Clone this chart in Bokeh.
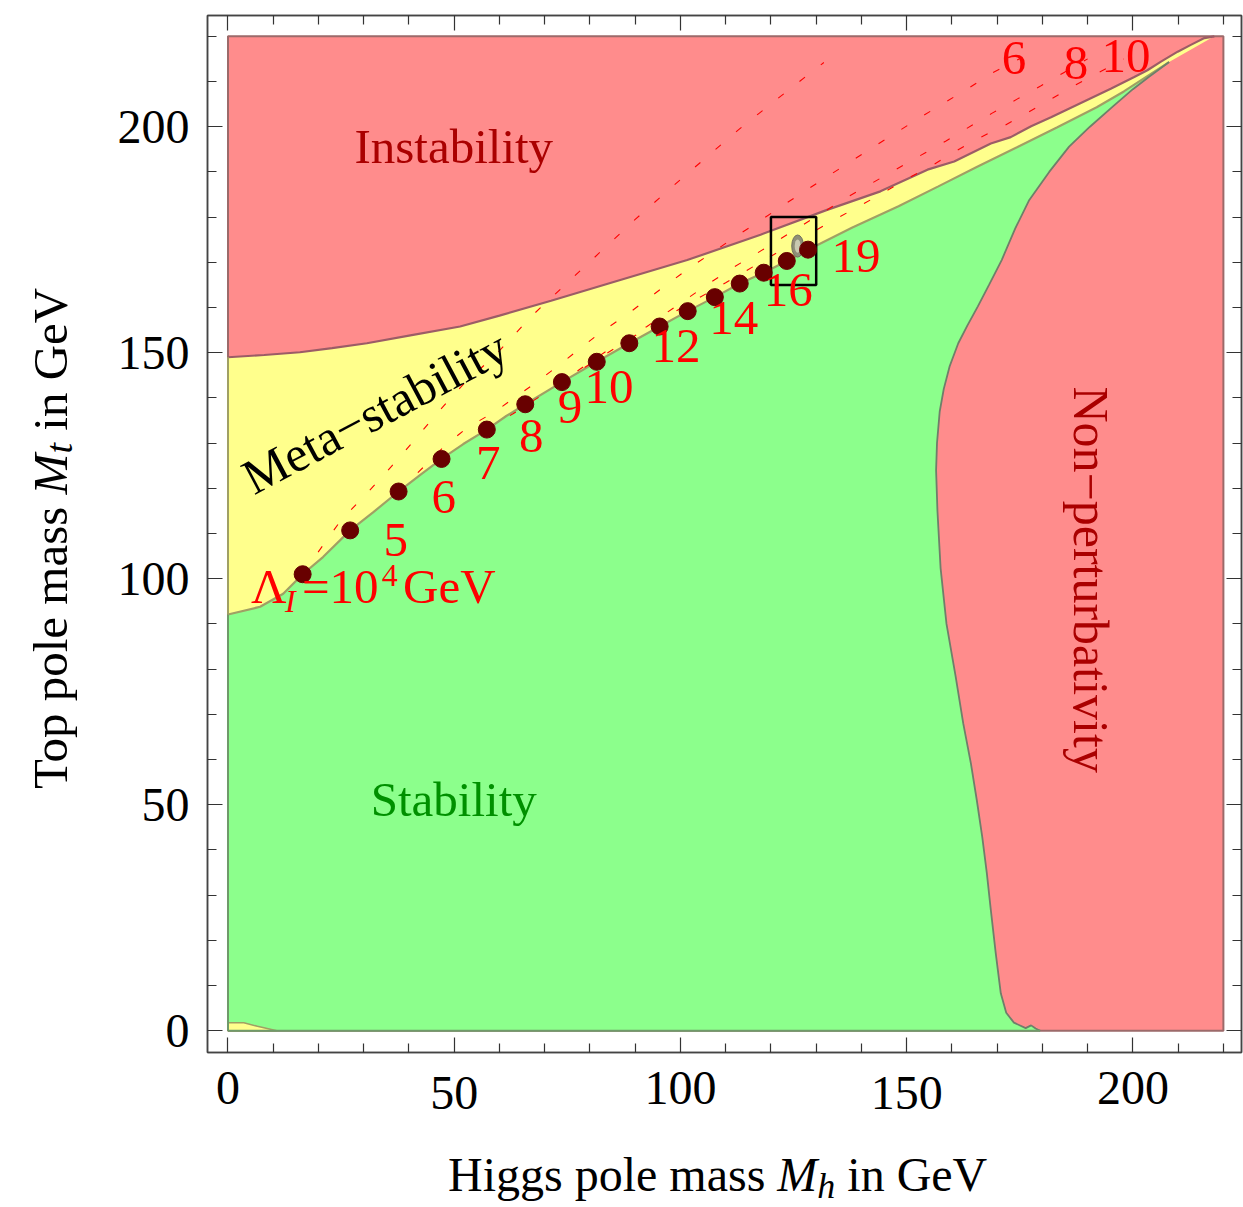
import math
from bokeh.plotting import figure
from bokeh.models import Range1d, LinearAxis, FixedTicker, Label, Div
from bokeh.layouts import row, column
from bokeh.embed import file_html
from bokeh.resources import INLINE

FONT = "Liberation Serif"

# ---------------- data ----------------
x_major = [0, 50, 100, 150, 200]
y_major = [0, 50, 100, 150, 200]
x_minor = [10, 20, 30, 40, 60, 70, 80, 90, 110, 120, 130, 140, 160, 170, 180, 190, 210, 220]
y_minor = [10, 20, 30, 40, 60, 70, 80, 90, 110, 120, 130, 140, 160, 170, 180, 190, 210, 220]
x_labels_high = [0, 100, 200]
x_labels_low = [50, 150]

region_xmax = 220
region_ymax = 220

# instability / meta-stability boundary
upper_x = [0, 8, 15.9, 23, 30.7, 40, 51.3, 60, 71.4, 86.7, 101.5, 117.7, 132.4, 144.2, 154.6,
           160.5, 168.6, 173, 177.5, 181.9, 186.3, 190.7, 195.1, 200.3, 203.2, 206.2, 209.9,
           212.8, 215.8, 218]
upper_y = [149, 149.5, 150.1, 151, 152.1, 153.8, 155.8, 158.2, 161.5, 166.1, 170.5, 176.1, 181.6,
           185.7, 190.5, 192.3, 196.3, 197.7, 200.1, 202.1, 204.2, 206.3, 208.4, 211, 212.5,
           214.4, 216.6, 218.1, 219.6, 220]

# meta-stability / stability boundary
lower_x = [0, 7.1, 12.2, 16.5, 21, 27, 32.2, 37.7, 42.5, 47.2, 52, 57.2, 61.5, 65.7, 73.8, 81.5,
           88.7, 95.4, 101.6, 107.6, 113.1, 118.4, 123.5, 128.2, 138, 148.2, 157, 165.7, 174.5,
           183.3, 192, 198, 203.2, 208]
lower_y = [92.1, 93.8, 96.7, 101, 104.8, 110.7, 114.8, 119.3, 123, 126.5, 129.8, 133, 136, 138.6,
           143.5, 148, 152.1, 155.8, 159.2, 162.3, 165.3, 167.7, 170.3, 172.8, 177.7, 182.4,
           186.8, 191.2, 195.5, 199.9, 204.3, 207.8, 211.2, 214.3]

# stability / non-perturbativity boundary
nonpert_x = [208, 203.5, 200, 195.6, 190.5, 185.9, 181.5, 177.1, 174, 171, 168.2, 165.7, 163.4,
             161.4, 159.5, 158.2, 157.3, 156.7, 156.5, 156.8, 157.5, 158.8, 160.8, 162.5, 164.2,
             165.5, 166.7, 167.7, 168.6, 169.7, 170.8, 172, 173.7, 176.3, 177.5, 178.5, 179.5]
nonpert_y = [214.3, 211, 208.3, 204.5, 200, 195.6, 190, 183.8, 177.5, 170.5, 165, 160.2, 156,
             152.1, 147, 142, 137, 130, 124, 115, 102.3, 90, 78.5, 68, 59.1,
             51, 42.9, 35, 26.7, 17, 8.3, 4, 1.8, 0.6, 1.2, 0.5, 0]

# small meta-stable patch at the bottom left
blob_x = [0, 0, 3.5, 6.5, 10.8]
blob_y = [0, 1.8, 1.8, 1.0, 0]

# instability scale Lambda_I = 10^n GeV along the stability boundary, n = 4..19
dot_n = [4, 5, 6, 7, 8, 9, 10, 11, 12, 13, 14, 15, 16, 17, 18, 19]
dot_x = [16.5, 27, 37.7, 47.2, 57.2, 65.7, 73.8, 81.5, 88.7, 95.4, 101.6, 107.6, 113.1, 118.4, 123.5, 128.2]
dot_y = [101, 110.7, 119.3, 126.5, 133, 138.6, 143.5, 148, 152.1, 155.8, 159.2, 162.3, 165.3, 167.7, 170.3, 172.8]

num_text = ["5", "6", "7", "8", "9", "10", "12", "14", "16", "19"]
num_x = [37.1, 47.7, 57.5, 67.0, 75.6, 84.2, 99.0, 111.8, 123.8, 138.8]
num_y = [108.5, 118.0, 125.5, 131.5, 137.9, 142.5, 151.4, 157.6, 163.8, 171.5]

top_text = ["6", "8", "10"]
top_x = [173.7, 187.4, 198.5]
top_y = [215.1, 214.2, 215.7]

# dashed contours of constant Lambda_I
c4_x = [16.5, 20, 25, 30.3, 34.4, 38.4, 42.5, 46.2, 52, 59.1, 67.2, 76.3, 80.8, 90, 100, 112.8, 117.3, 124.5, 131.7]
c4_y = [101, 106, 113, 118.5, 122.9, 127.4, 132.2, 136.6, 143, 149.5, 158.2, 166.7, 170.9, 179.5, 188.3, 199.3, 202.9, 208.6, 214.2]
c6_x = [37.7, 43, 48, 53, 59.1, 63.1, 68.1, 73.1, 77.9, 82.6, 87.6, 92.5, 97.4, 102.2, 107.4, 112.5,
        117.3, 122.5, 132.8, 143.1, 153.4, 163.8, 168.9, 174.9]
c6_y = [119.3, 124.5, 129.5, 133.5, 137, 139.9, 143.4, 147.2, 151, 154.7, 158, 161.7, 165.4, 168.9,
        172.4, 175.9, 179, 182.5, 189.2, 195.8, 202.3, 208.6, 211.9, 215]
c8_x = [57.2, 63, 70, 78, 86, 92.6, 97.3, 106.6, 111.4, 116.9, 127.1, 137.2, 147.9, 158.6, 168.9, 174.4, 179.6, 184.8, 190]
c8_y = [133, 136.5, 141, 146.5, 152, 155.8, 159.1, 165.5, 168.7, 172, 178.3, 184.6, 190.7, 196.8, 203, 206.1, 209, 212, 215]
c10_x = [73.8, 82, 90, 100, 110, 122, 134.3, 139.7, 145, 150.1, 155.6, 160.5, 166.2, 171.5, 176.7, 181.9, 187.4, 192.5, 198]
c10_y = [143.5, 148.8, 153.8, 159.8, 165.5, 172.5, 179.6, 182.5, 185.5, 188.5, 191.4, 194.4, 197.6, 200.2, 203.1, 206.1, 209.3, 212, 215]

# experimental region and zoom box
exp_x, exp_y, exp_w, exp_h = 125.9, 173.6, 2.6, 4.9
box_left, box_right, box_bottom, box_top = 120, 130, 165, 180

# ---------------- colours ----------------
RED = "#FF8C8C"
YELLOW = "#FFFF8C"
GREEN = "#8CFF8C"

# ---------------- layout sizes ----------------
YDIV_W = 80
XDIV_H = 80
TOTAL_W, TOTAL_H = 1243, 1207
P_W = TOTAL_W - YDIV_W
P_H = TOTAL_H - XDIV_H

p = figure(width=P_W, height=P_H, output_backend="svg", toolbar_location=None,
           x_range=Range1d(-4.53, 224.0), y_range=Range1d(-4.8, 224.6),
           x_axis_location=None, y_axis_location=None,
           min_border_left=207 - YDIV_W, min_border_right=2, min_border_top=15,
           min_border_bottom=P_H - 1052)
p.grid.visible = False
p.outline_line_color = "#444444"
p.outline_line_width = 1.5
p.background_fill_color = "white"
p.border_fill_color = "white"


def style_axis(ax, labels=True, ticks=True):
    ax.major_tick_in = 15
    ax.major_tick_out = 0
    ax.minor_tick_in = 9
    ax.minor_tick_out = 0
    ax.major_tick_line_color = "#333333" if ticks else None
    ax.minor_tick_line_color = "#333333" if ticks else None
    ax.major_tick_line_width = 1.2
    ax.minor_tick_line_width = 1.2
    ax.axis_line_color = "#444444" if ticks else None
    ax.axis_line_width = 1.5
    ax.major_label_text_font = FONT
    if labels:
        ax.major_label_text_font_size = "48px"
        ax.major_label_text_color = "black"
    else:
        ax.major_label_text_font_size = "0px"
        ax.major_label_text_color = None
        ax.major_label_standoff = 0


xt = FixedTicker(ticks=x_major, minor_ticks=x_minor)
yt = FixedTicker(ticks=y_major, minor_ticks=y_minor)

# bottom: ticks, then two staggered label rows
xb = LinearAxis(ticker=xt)
style_axis(xb, labels=False)
p.add_layout(xb, "below")

xb_hi = LinearAxis(ticker=FixedTicker(ticks=x_labels_high, minor_ticks=[]))
style_axis(xb_hi, ticks=False)
xb_hi.major_label_standoff = 19
p.add_layout(xb_hi, "below")

xb_lo = LinearAxis(ticker=FixedTicker(ticks=x_labels_low, minor_ticks=[]))
style_axis(xb_lo, ticks=False)
xb_lo.major_label_standoff = -30
p.add_layout(xb_lo, "below")

yl = LinearAxis(ticker=yt)
style_axis(yl)
yl.major_label_standoff = 18
p.add_layout(yl, "left")

xa = LinearAxis(ticker=xt)
style_axis(xa, labels=False)
p.add_layout(xa, "above")
yr = LinearAxis(ticker=yt)
style_axis(yr, labels=False)
p.add_layout(yr, "right")

# ---------------- regions ----------------
p.patch([0, 0, region_xmax, region_xmax], [0, region_ymax, region_ymax, 0],
        fill_color=RED, line_color="#9c6a6a", line_width=2)
p.patch(upper_x + lower_x[::-1], upper_y + lower_y[::-1], fill_color=YELLOW, line_color=None)
p.patch([0] + lower_x + nonpert_x[1:], [0] + lower_y + nonpert_y[1:], fill_color=GREEN, line_color=None)
p.patch(blob_x, blob_y, fill_color=YELLOW, line_color="#a0a064", line_width=1.5)

p.line(upper_x, upper_y, line_color="#9c5c66", line_width=2.2)
p.line(lower_x, lower_y, line_color="#a0a064", line_width=2.2)
p.line(nonpert_x, nonpert_y, line_color="#6f7f6a", line_width=1.8)
p.line([0, 0], [0, lower_y[0]], line_color="#6f9a6a", line_width=2)
p.line([0, nonpert_x[-1]], [0, 0], line_color="#6f9a6a", line_width=2)
p.line([0, 0], [lower_y[0], upper_y[0]], line_color="#a0a064", line_width=2)

# dashed contours
for cx, cy in [(c4_x, c4_y), (c6_x, c6_y), (c8_x, c8_y), (c10_x, c10_y)]:
    p.line(cx, cy, line_color="red", line_width=1.1, line_dash="7 20")

# experimental ellipse and zoom box
p.ellipse(x=[exp_x], y=[exp_y], width=[exp_w], height=[exp_h],
          fill_color="#8f8f78", line_color="#707060", line_width=1)
p.ellipse(x=[exp_x], y=[exp_y], width=[exp_w * 0.5], height=[exp_h * 0.6],
          fill_color="#c9c9b0", line_color=None)
p.quad(left=[box_left], right=[box_right], bottom=[box_bottom], top=[box_top],
       fill_color=None, line_color="black", line_width=2.5)

# dots
p.scatter(dot_x, dot_y, size=17, fill_color="#680000", line_color="#680000")


# ---------------- texts ----------------
def add_text(text, x, y, size=49, color="black", style="normal", angle=0.0, align="left"):
    p.add_layout(Label(x=x, y=y, text=text, text_font=FONT, text_font_size=f"{size}px",
                       text_color=color, text_font_style=style, angle=angle,
                       text_align=align, text_baseline="middle"))


for t, x, y in zip(num_text, num_x, num_y):
    add_text(t, x, y, color="red", align="center")
for t, x, y in zip(top_text, top_x, top_y):
    add_text(t, x, y, color="red", align="center")

# Lambda_I = 10^4 GeV
add_text("\u039b", 5.1, 98.25, color="red")
add_text("I", 12.6, 95.15, size=32, color="red", style="italic")
add_text("=10", 16.35, 98.25, color="red")
add_text("4", 34.0, 100.7, size=32, color="red")
add_text("GeV", 38.7, 98.25, color="red")

add_text("Instability", 49.9, 195.7, color="#AA0000", align="center")
add_text("Stability", 49.9, 51.1, color="#009000", align="center")
add_text("Meta\u2212stability", 32.5, 136.9, size=50, color="black", align="center",
         angle=math.radians(28.0))
add_text("Non\u2212perturbativity", 190.7, 99.8, size=50, color="#AA0000", align="center",
         angle=-math.pi / 2)

# ---------------- axis titles (HTML, for italic symbol with subscript) ----------------
ytitle_html = (
    "<div style=\"writing-mode:vertical-rl; transform:translateX(11.4px) rotate(180deg); "
    "height:1076px; width:80px; text-align:center; font-family:'Liberation Serif'; font-size:49px; "
    "line-height:80px; white-space:nowrap; color:black;\">Top pole mass <i>M</i>"
    "<span style=\"font-size:38px; font-style:italic; vertical-align:-8px; line-height:1;\">t</span>"
    " in GeV</div>"
)
xtitle_html = (
    "<div style=\"padding-left:368px; padding-top:18px; font-family:'Liberation Serif'; "
    "font-size:48px; line-height:60px; white-space:nowrap; color:black;\">Higgs pole mass <i>M</i>"
    "<span style=\"font-size:36px; font-style:italic; vertical-align:-7px; line-height:1;\">h</span>"
    " in GeV</div>"
)
ydiv = Div(text=ytitle_html, width=YDIV_W, height=TOTAL_H, margin=0)
xdiv = Div(text=xtitle_html, width=P_W, height=XDIV_H, margin=0)

layout = row(ydiv, column(p, xdiv, spacing=0), spacing=0)

open("out.html", "w").write(file_html(layout, INLINE))
